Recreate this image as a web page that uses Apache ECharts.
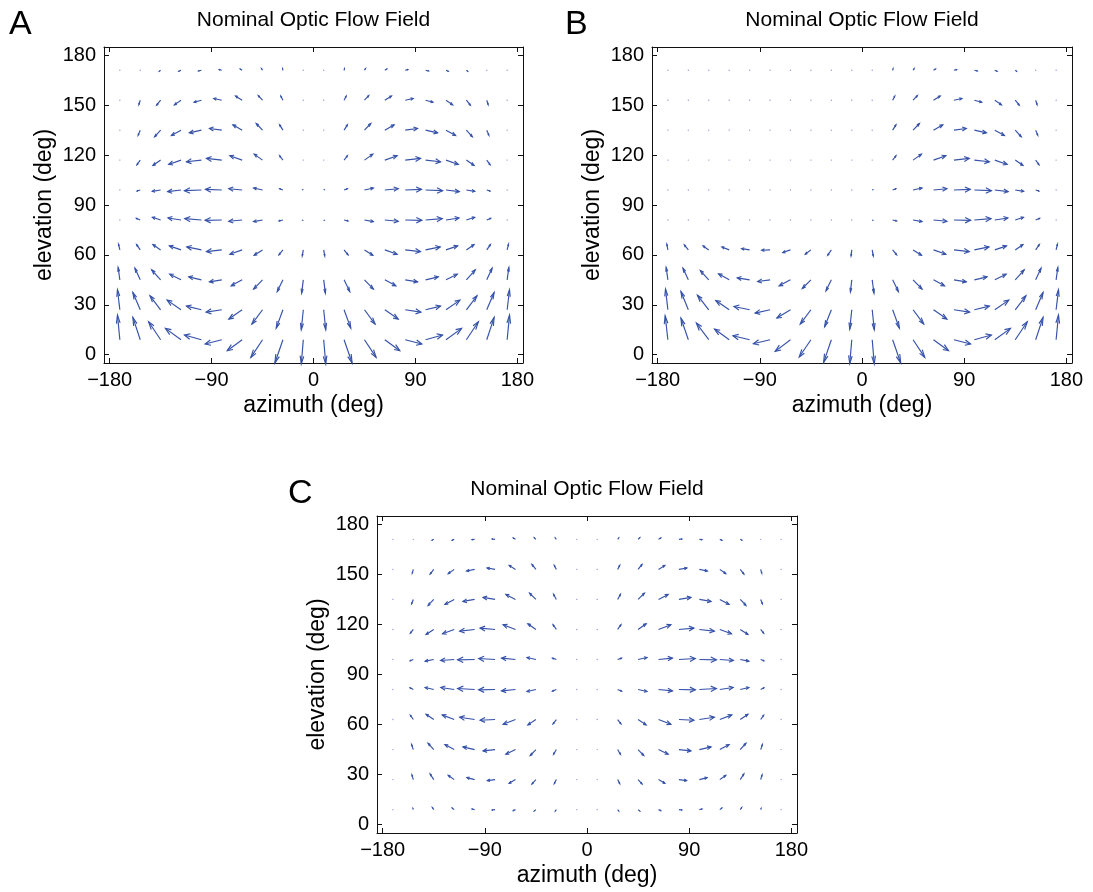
<!DOCTYPE html>
<html>
<head>
<meta charset="utf-8">
<script src="https://cdn.jsdelivr.net/npm/echarts@6/dist/echarts.min.js"></script>
<style>
html,body{margin:0;padding:0;background:#fff;}
#chart{width:1093px;height:892px;}
</style>
</head>
<body>
<div id="chart"></div>
<script>
// ---------- data ----------
const AZ = [-171,-153,-135,-117,-99,-81,-63,-45,-27,-9,9,27,45,63,81,99,117,135,153,171];
const EL = [9,27,45,63,81,99,117,135,153,171];
const X_TICKS = [-180,-90,0,90,180];
const Y_TICKS = [0,30,60,90,120,150,180];
const TITLE = 'Nominal Optic Flow Field';
const X_NAME = 'azimuth (deg)';
const Y_NAME = 'elevation (deg)';
const PANEL_LETTERS = ['A','B','C'];

// Panel A : u (azimuth component, deg) rows by elevation 9..171
const A_U = [
 [-2.1,-6.5,-10.6,-13.8,-15,-14.7,-13.2,-10.3,-7.1,-1.8, 1.8,7.1,10.3,13.2,14.7,15,13.8,10.6,6.5,2.1],
 [-2.1,-6.5,-9.4,-12.3,-13.2,-13.8,-11.8,-9.4,-5.9,-1.8, 1.8,5.9,9.4,11.8,13.8,13.2,12.3,9.4,6.5,2.1],
 [-1.5,-4.7,-7.9,-10,-11.2,-10.9,-9.7,-7.9,-5,-1.5, 1.5,5,7.9,9.7,10.9,11.2,10,7.9,4.7,1.5],
 [-1.2,-3.2,-6.8,-10.3,-12.9,-13.5,-10.9,-7.4,-3.5,-0.9, 0.9,3.5,7.4,10.9,13.5,12.9,10.3,6.8,3.2,1.2],
 [-0.3,-3.5,-7.3,-11.5,-14.7,-14.7,-11.8,-7.9,-3.5,-0.5, 0.5,3.5,7.9,11.8,14.7,14.7,11.5,7.3,3.5,0.3],
 [-0.3,-2.9,-7.4,-11.8,-15,-14.4,-11.8,-7.9,-2.9,-0.5, 0.5,2.9,7.9,11.8,14.4,15,11.8,7.4,2.9,0.3],
 [-0.3,-2.9,-6.8,-10.9,-13.2,-13.5,-10.9,-7.4,-2.9,-0.3, 0.3,2.9,7.4,10.9,13.5,13.2,10.9,6.8,2.9,0.3],
 [-0.3,-1.8,-5.3,-8.5,-10.6,-10.9,-8.2,-5.6,-2.9,-0.3, 0.3,2.9,5.6,8.2,10.9,10.6,8.5,5.3,1.8,0.3],
 [-0.2,-1.2,-3.5,-5.9,-6.5,-7.1,-5.9,-3.8,-1.8,-0.2, 0.2,1.8,3.8,5.9,7.1,6.5,5.9,3.5,1.2,0.2],
 [-0.2,-0.3,-1.2,-2,-2.6,-2.3,-1.8,-0.9,-0.3,-0.2, 0.2,0.3,0.9,1.8,2.3,2.6,2,1.2,0.3,0.2]
];
// Panel A : v (elevation component, deg)
const A_V = [
 [14.8,13.4,10.8,6.8,2.8,-2.6,-6.6,-10.6,-14,-14.6, -14.6,-14,-10.6,-6.6,-2.6,2.8,6.8,10.8,13.4,14.8],
 [12,10.4,8.4,5.8,2.2,-1.4,-5.6,-8.6,-11,-12, -12,-11,-8.6,-5.6,-1.4,2.2,5.8,8.4,10.4,12],
 [7.4,7,6,3.4,1.8,-1.2,-3.6,-5.6,-7,-8, -8,-7,-5.6,-3.6,-1.2,1.8,3.4,6,7,7.4],
 [3.4,3.2,3.2,2.4,1.8,-1,-2.6,-3.2,-3,-3.6, -3.6,-3,-3.2,-2.6,-1,1.8,2.4,3.2,3.2,3.4],
 [0,1,1.6,1.2,0.8,-0.2,-0.8,-1,-0.6,-0.2, -0.2,-0.6,-1,-0.8,-0.2,0.8,1.2,1.6,1,0],
 [0,-0.6,-0.8,-1,-0.4,0.4,0.8,1.2,0.8,0.2, 0.2,0.8,1.2,0.8,0.4,-0.4,-1,-0.8,-0.6,0],
 [-0.3,-2.8,-3.2,-2.6,-1,1,2.6,3.6,2.6,0.3, 0.3,2.6,3.6,2.6,1,-1,-2.6,-3.2,-2.8,-0.3],
 [-0.3,-3,-4,-3.2,-1.6,1,3.2,4,3.2,0.3, 0.3,3.2,4,3.2,1,-1.6,-3.2,-4,-3,-0.3],
 [-0.3,-2.6,-3,-2.8,-1.2,1,2.6,2.8,2.4,0.3, 0.3,2.4,2.8,2.6,1,-1.2,-2.8,-3,-2.6,-0.3],
 [-0.1,-0.3,-0.6,-0.6,-0.4,0.4,0.8,1,0.8,0.1, 0.1,0.8,1,0.8,0.4,-0.4,-0.6,-0.6,-0.3,-0.1]
];
// Panel B : u
const B_U = [
 [-2.4,-6.5,-10.9,-12.9,-14.7,-14.7,-13.5,-10.3,-6.8,-1.8, 1.8,7.1,10.3,13.2,14.7,15,13.8,10.6,6.5,2.1],
 [-2.1,-6.5,-10,-11.8,-13.8,-13.2,-12,-9.4,-5.9,-1.8, 1.8,5.9,9.4,11.8,13.8,13.2,12.3,9.4,6.5,2.1],
 [-1.5,-4.7,-7.4,-9.4,-10.9,-10.9,-10,-7.6,-4.7,-1.2, 1.5,5,7.9,9.7,10.9,11.2,10,7.9,4.7,1.5],
 [-0.9,-3.5,-5,-6.5,-7.1,-7.4,-6.8,-5,-3.2,-0.6, 0.9,3.5,7.4,10.9,13.5,12.9,10.3,6.8,3.2,1.2],
 [0,0,0,0,0,0,0,0,0,0, 0.5,3.5,7.9,11.8,14.7,14.7,11.5,7.3,3.5,0.3],
 [0,0,0,0,0,0,0,0,0,0, 0.5,2.9,7.9,11.8,14.4,15,11.8,7.4,2.9,0.3],
 [0,0,0,0,0,0,0,0,0,0, 0.3,2.9,7.4,10.9,13.5,13.2,10.9,6.8,2.9,0.3],
 [0,0,0,0,0,0,0,0,0,0, 0.3,2.9,5.6,8.2,10.9,10.6,8.5,5.3,1.8,0.3],
 [0,0,0,0,0,0,0,0,0,0, 0.2,1.8,3.8,5.9,7.1,6.5,5.9,3.5,1.2,0.2],
 [0,0,0,0,0,0,0,0,0,0, 0.2,0.3,0.9,1.8,2.3,2.6,2,1.2,0.3,0.2]
];
// Panel B : v
const B_V = [
 [14.4,13,10,6.4,2.4,-2.4,-7,-10.4,-13.6,-14.4, -14.6,-14,-10.6,-6.6,-2.6,2.8,6.8,10.8,13.4,14.8],
 [12.4,11,8.8,5.6,2,-2,-5,-8.6,-10.2,-11.6, -12,-11,-8.6,-5.6,-1.4,2.2,5.8,8.4,10.4,12],
 [7.4,7,5.6,3.6,1.2,-1,-3.6,-5.2,-6.6,-7.2, -8,-7,-5.6,-3.6,-1.2,1.8,3.4,6,7,7.4],
 [3.4,3,2.4,1.8,0.8,-0.2,-1.6,-2.6,-3.2,-3.6, -3.6,-3,-3.2,-2.6,-1,1.8,2.4,3.2,3.2,3.4],
 [0,0,0,0,0,0,0,0,0,0, -0.2,-0.6,-1,-0.8,-0.2,0.8,1.2,1.6,1,0],
 [0,0,0,0,0,0,0,0,0,0, 0.2,0.8,1.2,0.8,0.4,-0.4,-1,-0.8,-0.6,0],
 [0,0,0,0,0,0,0,0,0,0, 0.3,2.6,3.6,2.6,1,-1,-2.6,-3.2,-2.8,-0.3],
 [0,0,0,0,0,0,0,0,0,0, 0.3,3.2,4,3.2,1,-1.6,-3.2,-4,-3,-0.3],
 [0,0,0,0,0,0,0,0,0,0, 0.3,2.4,2.8,2.6,1,-1.2,-2.8,-3,-2.6,-0.3],
 [0,0,0,0,0,0,0,0,0,0, 0.1,0.8,1,0.8,0.4,-0.4,-0.6,-0.6,-0.3,-0.1]
];
// Panel C : u
const C_U = [
 [-0.2,-0.3,-1.2,-1.8,-2.4,-2.6,-2,-1.5,-0.9,-0.2, 0.2,0.9,1.5,2,2.6,2.4,1.8,1.2,0.3,0.2],
 [-0.2,-1.2,-3.2,-5.3,-6.8,-6.8,-5.6,-3.5,-1.8,-0.2, 0.2,1.8,3.5,5.6,6.8,6.8,5.3,3.2,1.2,0.2],
 [-0.2,-1.5,-5,-8.2,-10.3,-10.6,-8.5,-5,-2.4,-0.2, 0.2,2.4,5,8.5,10.6,10.3,8.2,5,1.5,0.2],
 [-0.2,-2.6,-6.8,-10.6,-13.2,-13.2,-10.9,-7.1,-2.9,-0.2, 0.2,2.9,7.1,10.9,13.2,13.2,10.6,6.8,2.6,0.2],
 [-0.2,-2.9,-7.6,-11.8,-15,-14.4,-12.3,-7.9,-3.5,-0.2, 0.2,3.5,7.9,12.3,14.4,15,11.8,7.6,2.9,0.2],
 [-0.2,-2.9,-7.6,-12,-15,-14.4,-12.3,-7.9,-3.5,-0.2, 0.2,3.5,7.9,12.3,14.4,15,12,7.6,2.9,0.2],
 [-0.2,-2.6,-6.8,-10.3,-13.2,-13.2,-10.9,-7.1,-2.9,-0.2, 0.2,2.9,7.1,10.9,13.2,13.2,10.3,6.8,2.6,0.2],
 [-0.2,-1.5,-5,-8.2,-10.3,-10.6,-8.5,-5.6,-2.4,-0.2, 0.2,2.4,5.6,8.5,10.6,10.3,8.2,5,1.5,0.2],
 [-0.2,-0.9,-3.2,-5.3,-7.1,-7.1,-5.6,-3.5,-1.8,-0.2, 0.2,1.8,3.5,5.6,7.1,7.1,5.3,3.2,0.9,0.2],
 [-0.2,-0.3,-1.5,-1.8,-2.4,-2.6,-2,-1.5,-0.9,-0.2, 0.2,0.9,1.5,2,2.6,2.4,1.8,1.5,0.3,0.2]
];
// Panel C : v
const C_V = [
 [0.1,0.6,1.2,1,0.4,-0.2,-0.6,-0.8,-0.8,-0.1, -0.1,-0.8,-0.8,-0.6,-0.2,0.4,1,1.2,0.6,0.1],
 [0.2,2.8,3.4,2.6,1.2,-0.6,-2.2,-2.6,-2.4,-0.2, -0.2,-2.4,-2.6,-2.2,-0.6,1.2,2.6,3.4,2.8,0.2],
 [0.3,3,3.8,3,1.6,-0.8,-2.8,-3.6,-2.8,-0.3, -0.3,-2.8,-3.6,-2.8,-0.8,1.6,3,3.8,3,0.3],
 [0.3,2.6,3.2,2.8,1.4,-0.4,-2.8,-3.2,-2.6,-0.3, -0.3,-2.6,-3.2,-2.8,-0.4,1.4,2.8,3.2,2.6,0.3],
 [0,1,1.2,1.2,0.6,-0.2,-0.8,-1.2,-1,-0.1, -0.1,-1,-1.2,-0.8,-0.2,0.6,1.2,1.2,1,0],
 [0,-0.8,-1,-0.6,-0.2,0.6,0.8,1.2,0.8,0.1, 0.1,0.8,1.2,0.8,0.6,-0.2,-0.6,-1,-0.8,0],
 [-0.3,-2.2,-3,-2.6,-1,0.8,2.8,3.4,2.8,0.3, 0.3,2.8,3.4,2.8,0.8,-1,-2.6,-3,-2.2,-0.3],
 [-0.3,-2.6,-3.6,-3,-1.2,1.2,3,3.8,3,0.3, 0.3,3,3.8,3,1.2,-1.2,-3,-3.6,-2.6,-0.3],
 [-0.2,-2.2,-2.8,-2.6,-1,0.8,2.4,3,2.4,0.2, 0.2,2.4,3,2.4,0.8,-1,-2.6,-2.8,-2.2,-0.2],
 [-0.1,-0.3,-0.5,-0.6,-0.2,0.2,0.8,1,0.8,0.1, 0.1,0.8,1,0.8,0.2,-0.2,-0.6,-0.5,-0.3,-0.1]
];

// ---------- style ----------
const FONT = 'Liberation Sans, Arial, Helvetica, sans-serif';
const ARROW_COLOR = '#3551a8';
const ALPHA = 0.33, BETA = 0.33; // MATLAB quiver arrow-head parameters

function buildData(U, V) {
  const out = [];
  for (let r = 0; r < EL.length; r++)
    for (let c = 0; c < AZ.length; c++)
      out.push([AZ[c], EL[r], U[r][c], V[r][c]]);
  return out;
}

function renderItem(params, api) {
  const x = api.value(0), y = api.value(1), u = api.value(2), v = api.value(3);
  const p0 = api.coord([x, y]);
  if (Math.hypot(u, v) < 0.5) {
    return {type: 'circle', shape: {cx: p0[0], cy: p0[1], r: 0.7},
            style: {fill: ARROW_COLOR, opacity: 0.55}};
  }
  const p1 = api.coord([x + u, y + v]);
  const h1 = api.coord([x + u - ALPHA * (u + BETA * v), y + v - ALPHA * (v - BETA * u)]);
  const h2 = api.coord([x + u - ALPHA * (u - BETA * v), y + v - ALPHA * (v + BETA * u)]);
  return {
    type: 'group',
    children: [
      {type: 'line', shape: {x1: p0[0], y1: p0[1], x2: p1[0], y2: p1[1]},
       style: {stroke: ARROW_COLOR, lineWidth: 1.15}},
      {type: 'polyline', shape: {points: [h1, p1, h2]},
       style: {stroke: ARROW_COLOR, fill: null, lineWidth: 1.15}}
    ]
  };
}

const GRIDS = [
  {left: 104, top: 47, width: 419, height: 316},
  {left: 652, top: 47, width: 420, height: 316},
  {left: 377, top: 516, width: 420, height: 317}
];
const PANEL_DATA = [[A_U, A_V], [B_U, B_V], [C_U, C_V]];

const fmt = v => String(v).replace('-', '\u2212');
const axisLineStyle = {show: true, onZero: false, lineStyle: {color: '#111', width: 1}};

const xAxes = [], yAxes = [], series = [], graphics = [];
GRIDS.forEach((g, i) => {
  xAxes.push({
    gridIndex: i, type: 'value', min: -185, max: 185, position: 'bottom',
    axisLine: axisLineStyle,
    axisTick: {inside: true, length: 5, customValues: X_TICKS, lineStyle: {color: '#111'}},
    axisLabel: {customValues: X_TICKS, formatter: fmt, color: '#000', fontSize: 20, fontFamily: FONT, margin: 7},
    splitLine: {show: false},
    name: X_NAME, nameLocation: 'middle', nameGap: 31,
    nameTextStyle: {color: '#000', fontSize: 23, fontFamily: FONT}
  });
  xAxes.push({
    gridIndex: i, type: 'value', min: -185, max: 185, position: 'top',
    axisLine: axisLineStyle,
    axisTick: {inside: true, length: 5, customValues: X_TICKS, lineStyle: {color: '#111'}},
    axisLabel: {show: false}, splitLine: {show: false}
  });
  yAxes.push({
    gridIndex: i, type: 'value', min: -5, max: 185, position: 'left',
    axisLine: axisLineStyle,
    axisTick: {inside: true, length: 5, customValues: Y_TICKS, lineStyle: {color: '#111'}},
    axisLabel: {customValues: Y_TICKS, formatter: fmt, color: '#000', fontSize: 20, fontFamily: FONT, margin: 8},
    splitLine: {show: false},
    name: Y_NAME, nameLocation: 'middle', nameGap: 48,
    nameTextStyle: {color: '#000', fontSize: 23, fontFamily: FONT}
  });
  yAxes.push({
    gridIndex: i, type: 'value', min: -5, max: 185, position: 'right',
    axisLine: axisLineStyle,
    axisTick: {inside: true, length: 5, customValues: Y_TICKS, lineStyle: {color: '#111'}},
    axisLabel: {show: false}, splitLine: {show: false}
  });
  series.push({
    type: 'custom', xAxisIndex: 2 * i, yAxisIndex: 2 * i,
    renderItem: renderItem, data: buildData(PANEL_DATA[i][0], PANEL_DATA[i][1]),
    silent: true, animation: false, clip: false
  });
  graphics.push({
    type: 'text', x: g.left + g.width / 2, y: g.top - 27,
    style: {text: TITLE, fontSize: 21, fontFamily: FONT, fill: '#000',
            textAlign: 'center', textVerticalAlign: 'middle'}
  });
});
const LETTER_POS = [[9, 8], [565, 8], [288, 477]];
PANEL_LETTERS.forEach((L, i) => {
  graphics.push({type: 'text', x: LETTER_POS[i][0], y: LETTER_POS[i][1],
    style: {text: L, fontSize: 34, fontFamily: FONT, fill: '#000', textVerticalAlign: 'top'}});
});

const chart = echarts.init(document.getElementById('chart'), null, {renderer: 'canvas'});
chart.setOption({
  animation: false,
  backgroundColor: '#fff',
  grid: GRIDS.map(g => Object.assign({containLabel: false}, g)),
  xAxis: xAxes, yAxis: yAxes, series: series, graphic: graphics
});
</script>
</body>
</html>
